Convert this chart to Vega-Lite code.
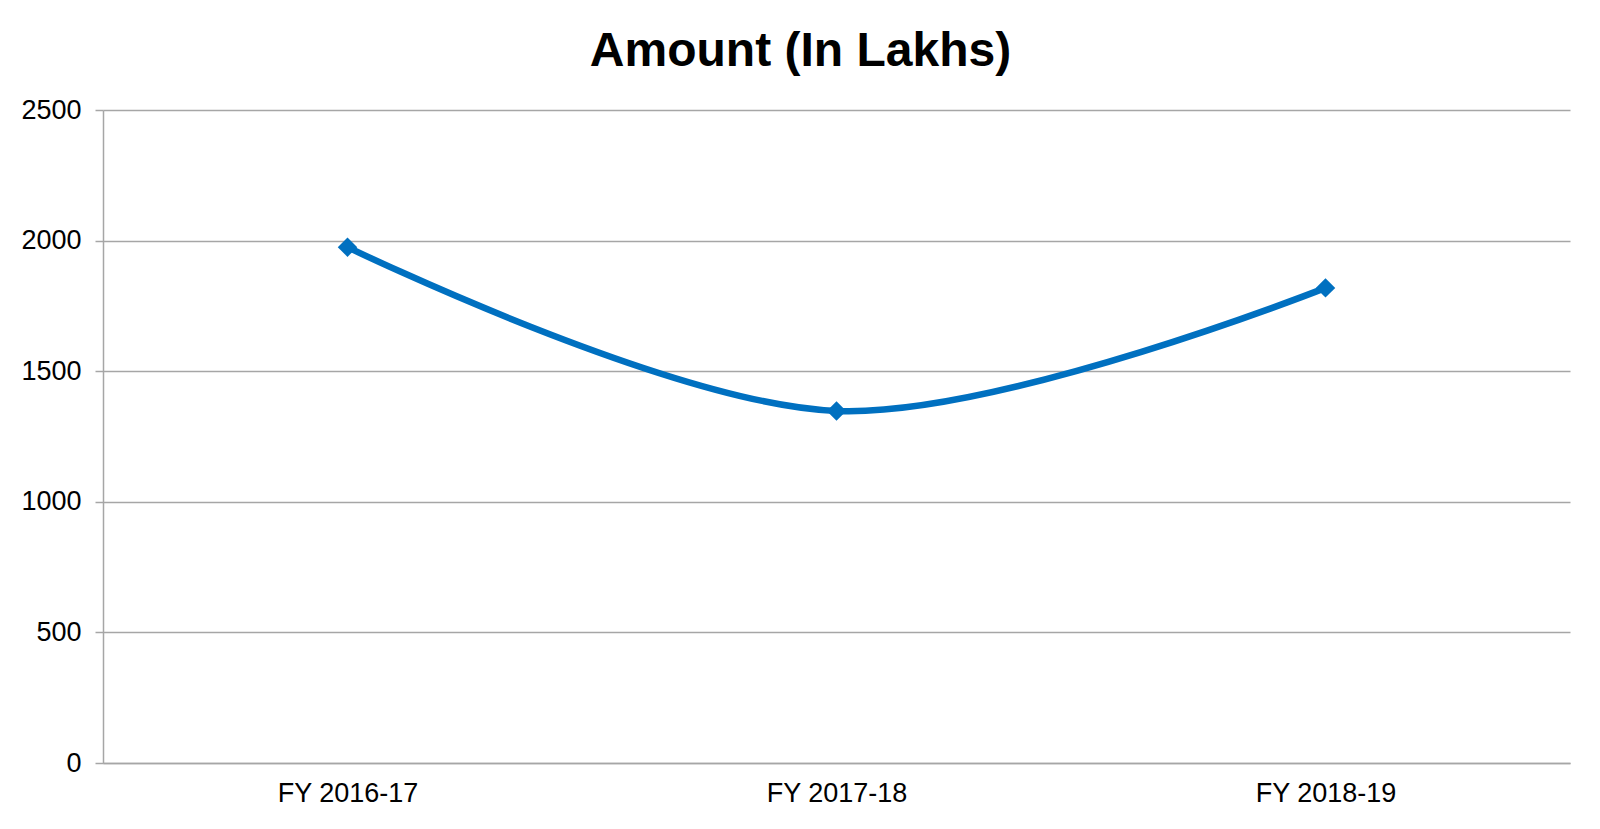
{
  "$schema": "https://vega.github.io/schema/vega-lite/v6.json",
  "autosize": "none",
  "width": 1467,
  "height": 653,
  "padding": {"left": 103, "top": 110, "right": 30, "bottom": 66},
  "background": "white",
  "title": {
    "text": "Amount (In Lakhs)",
    "font": "Liberation Sans",
    "fontSize": 48,
    "fontWeight": "bold",
    "color": "#000000",
    "anchor": "middle",
    "dx": -36,
    "dy": 58,
    "baseline": "alphabetic",
    "offset": 40
  },
  "data": {
    "values": [
      {"year": "FY 2016-17", "amount": 1975},
      {"year": "FY 2017-18", "amount": 1348},
      {"year": "FY 2018-19", "amount": 1819}
    ]
  },
  "encoding": {
    "x": {
      "field": "year",
      "type": "ordinal",
      "sort": null,
      "scale": {"type": "point", "padding": 0.5},
      "axis": {
        "title": null,
        "labelAngle": 0,
        "labelFont": "Liberation Sans",
        "labelFontSize": 27,
        "labelColor": "#000000",
        "labelPadding": 17,
        "ticks": false,
        "domain": true,
        "domainColor": "#A6A6A6",
        "domainWidth": 1.5,
        "grid": false
      }
    },
    "y": {
      "field": "amount",
      "type": "quantitative",
      "scale": {"domain": [0, 2500], "nice": false, "zero": true},
      "axis": {
        "title": null,
        "values": [0, 500, 1000, 1500, 2000, 2500],
        "format": "d",
        "labelFont": "Liberation Sans",
        "labelFontSize": 27,
        "labelColor": "#000000",
        "labelPadding": 14,
        "tickSize": 8,
        "tickColor": "#A6A6A6",
        "tickWidth": 1.5,
        "domainColor": "#A6A6A6",
        "domainWidth": 1.5,
        "grid": true,
        "gridColor": "#A6A6A6",
        "gridWidth": 1.5
      }
    }
  },
  "layer": [
    {
      "mark": {"type": "line", "interpolate": "catmull-rom", "color": "#0070C0", "strokeWidth": 6.5}
    },
    {
      "mark": {"type": "point", "shape": "diamond", "filled": true, "size": 380, "color": "#0070C0", "opacity": 1}
    }
  ],
  "config": {
    "view": {"stroke": null}
  }
}
